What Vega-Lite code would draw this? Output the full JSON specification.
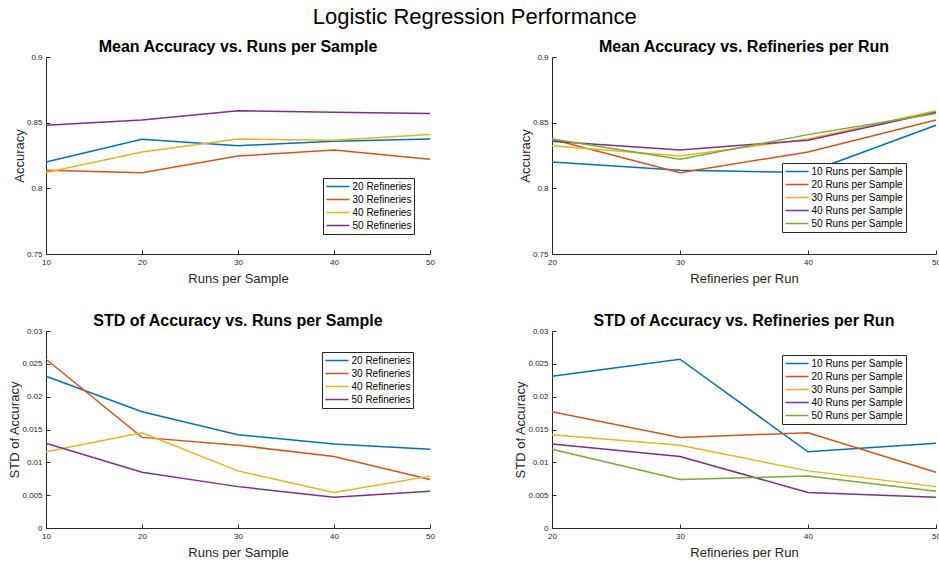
{
  "$schema": "https://vega.github.io/schema/vega-lite/v6.json",
  "padding": {"left": 8, "top": 6, "right": 0, "bottom": 0},
  "title": {"text": "Logistic Regression Performance", "fontSize": 22, "fontWeight": "normal", "anchor": "middle", "offset": 10},
  "datasets": {
    "d": [
      {"refineries": 20, "runs": 10, "mean": 0.8200, "std": 0.0231, "refLabel": "20 Refineries", "runLabel": "10 Runs per Sample"},
      {"refineries": 20, "runs": 20, "mean": 0.8374, "std": 0.0177, "refLabel": "20 Refineries", "runLabel": "20 Runs per Sample"},
      {"refineries": 20, "runs": 30, "mean": 0.8325, "std": 0.0142, "refLabel": "20 Refineries", "runLabel": "30 Runs per Sample"},
      {"refineries": 20, "runs": 40, "mean": 0.8358, "std": 0.0128, "refLabel": "20 Refineries", "runLabel": "40 Runs per Sample"},
      {"refineries": 20, "runs": 50, "mean": 0.8376, "std": 0.0120, "refLabel": "20 Refineries", "runLabel": "50 Runs per Sample"},
      {"refineries": 30, "runs": 10, "mean": 0.8137, "std": 0.0257, "refLabel": "30 Refineries", "runLabel": "10 Runs per Sample"},
      {"refineries": 30, "runs": 20, "mean": 0.8119, "std": 0.0138, "refLabel": "30 Refineries", "runLabel": "20 Runs per Sample"},
      {"refineries": 30, "runs": 30, "mean": 0.8246, "std": 0.0126, "refLabel": "30 Refineries", "runLabel": "30 Runs per Sample"},
      {"refineries": 30, "runs": 40, "mean": 0.8292, "std": 0.0109, "refLabel": "30 Refineries", "runLabel": "40 Runs per Sample"},
      {"refineries": 30, "runs": 50, "mean": 0.8221, "std": 0.0074, "refLabel": "30 Refineries", "runLabel": "50 Runs per Sample"},
      {"refineries": 40, "runs": 10, "mean": 0.8121, "std": 0.0116, "refLabel": "40 Refineries", "runLabel": "10 Runs per Sample"},
      {"refineries": 40, "runs": 20, "mean": 0.8277, "std": 0.0145, "refLabel": "40 Refineries", "runLabel": "20 Runs per Sample"},
      {"refineries": 40, "runs": 30, "mean": 0.8376, "std": 0.0087, "refLabel": "40 Refineries", "runLabel": "30 Runs per Sample"},
      {"refineries": 40, "runs": 40, "mean": 0.8366, "std": 0.0054, "refLabel": "40 Refineries", "runLabel": "40 Runs per Sample"},
      {"refineries": 40, "runs": 50, "mean": 0.8409, "std": 0.0079, "refLabel": "40 Refineries", "runLabel": "50 Runs per Sample"},
      {"refineries": 50, "runs": 10, "mean": 0.8480, "std": 0.0129, "refLabel": "50 Refineries", "runLabel": "10 Runs per Sample"},
      {"refineries": 50, "runs": 20, "mean": 0.8520, "std": 0.0085, "refLabel": "50 Refineries", "runLabel": "20 Runs per Sample"},
      {"refineries": 50, "runs": 30, "mean": 0.8590, "std": 0.0063, "refLabel": "50 Refineries", "runLabel": "30 Runs per Sample"},
      {"refineries": 50, "runs": 40, "mean": 0.8580, "std": 0.0047, "refLabel": "50 Refineries", "runLabel": "40 Runs per Sample"},
      {"refineries": 50, "runs": 50, "mean": 0.8570, "std": 0.0056, "refLabel": "50 Refineries", "runLabel": "50 Runs per Sample"}
    ]
  },
  "columns": 2,
  "spacing": {"row": 77, "column": 122},
  "bounds": "flush",
  "resolve": {"scale": {"x": "independent", "y": "independent", "color": "independent"}, "legend": {"color": "independent"}},
  "concat": [
    {
      "title": "Mean Accuracy vs. Runs per Sample",
      "width": 384, "height": 197,
      "data": {"name": "d"},
      "mark": {"type": "line", "strokeWidth": 1.5},
      "encoding": {
        "x": {"field": "runs", "type": "quantitative", "scale": {"domain": [10, 50], "nice": false, "zero": false}, "axis": {"title": "Runs per Sample", "values": [10, 20, 30, 40, 50]}},
        "y": {"field": "mean", "type": "quantitative", "scale": {"domain": [0.75, 0.9], "nice": false, "zero": false}, "axis": {"title": "Accuracy", "values": [0.75, 0.8, 0.85, 0.9], "format": ".3~g"}},
        "color": {"field": "refLabel", "type": "nominal", "scale": {"range": ["#0072BD", "#D95319", "#EDB120", "#7E2F8E"]}, "legend": {"orient": "none", "legendX": 277, "legendY": 121}}
      }
    },
    {
      "title": "Mean Accuracy vs. Refineries per Run",
      "width": 384, "height": 197,
      "data": {"name": "d"},
      "mark": {"type": "line", "strokeWidth": 1.5},
      "encoding": {
        "x": {"field": "refineries", "type": "quantitative", "scale": {"domain": [20, 50], "nice": false, "zero": false}, "axis": {"title": "Refineries per Run", "values": [20, 30, 40, 50]}},
        "y": {"field": "mean", "type": "quantitative", "scale": {"domain": [0.75, 0.9], "nice": false, "zero": false}, "axis": {"title": "Accuracy", "values": [0.75, 0.8, 0.85, 0.9], "format": ".3~g"}},
        "color": {"field": "runLabel", "type": "nominal", "scale": {"range": ["#0072BD", "#D95319", "#EDB120", "#7E2F8E", "#77AC30"]}, "legend": {"orient": "none", "legendX": 230, "legendY": 106}}
      }
    },
    {
      "title": "STD of Accuracy vs. Runs per Sample",
      "width": 384, "height": 197,
      "data": {"name": "d"},
      "mark": {"type": "line", "strokeWidth": 1.5},
      "encoding": {
        "x": {"field": "runs", "type": "quantitative", "scale": {"domain": [10, 50], "nice": false, "zero": false}, "axis": {"title": "Runs per Sample", "values": [10, 20, 30, 40, 50]}},
        "y": {"field": "std", "type": "quantitative", "scale": {"domain": [0, 0.03], "nice": false}, "axis": {"title": "STD of Accuracy", "values": [0, 0.005, 0.01, 0.015, 0.02, 0.025, 0.03], "format": ".3~g"}},
        "color": {"field": "refLabel", "type": "nominal", "scale": {"range": ["#0072BD", "#D95319", "#EDB120", "#7E2F8E"]}, "legend": {"orient": "none", "legendX": 276, "legendY": 21}}
      }
    },
    {
      "title": "STD of Accuracy vs. Refineries per Run",
      "width": 384, "height": 197,
      "data": {"name": "d"},
      "mark": {"type": "line", "strokeWidth": 1.5},
      "encoding": {
        "x": {"field": "refineries", "type": "quantitative", "scale": {"domain": [20, 50], "nice": false, "zero": false}, "axis": {"title": "Refineries per Run", "values": [20, 30, 40, 50]}},
        "y": {"field": "std", "type": "quantitative", "scale": {"domain": [0, 0.03], "nice": false}, "axis": {"title": "STD of Accuracy", "values": [0, 0.005, 0.01, 0.015, 0.02, 0.025, 0.03], "format": ".3~g"}},
        "color": {"field": "runLabel", "type": "nominal", "scale": {"range": ["#0072BD", "#D95319", "#EDB120", "#7E2F8E", "#77AC30"]}, "legend": {"orient": "none", "legendX": 230, "legendY": 24}}
      }
    }
  ],
  "config": {
    "font": "Liberation Sans",
    "view": {"stroke": null},
    "title": {"fontSize": 16, "fontWeight": "bold", "color": "#000000", "offset": -2},
    "axis": {
      "grid": false,
      "domainColor": "#262626",
      "tickColor": "#262626",
      "labelColor": "#262626",
      "titleColor": "#262626",
      "labelFontSize": 8,
      "titleFontSize": 13,
      "titleFontWeight": "normal",
      "tickSize": -4,
      "labelPadding": 8,
      "labelFlush": false,
      "labelOverlap": false
    },
    "axisX": {"titlePadding": 6},
    "axisY": {"titlePadding": 0},
    "legend": {
      "title": null,
      "strokeColor": "#262626",
      "fillColor": "#ffffff",
      "padding": 2.5,
      "labelFontSize": 10,
      "labelColor": "#000000",
      "labelOffset": 2,
      "rowPadding": 1,
      "clipHeight": 12,
      "symbolType": "stroke",
      "symbolSize": 530,
      "symbolStrokeWidth": 1.5,
      "cornerRadius": 0
    }
  }
}
